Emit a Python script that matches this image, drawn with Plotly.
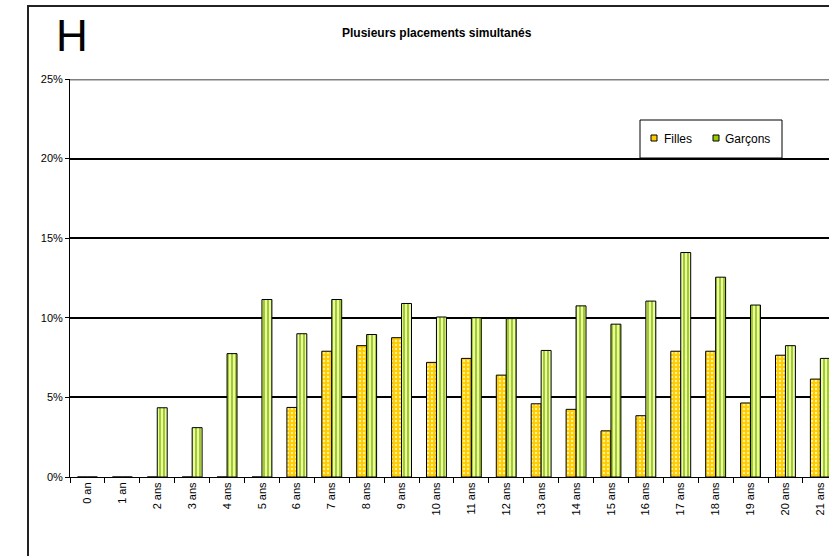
import plotly.graph_objects as go

categories = ["0 an", "1 an", "2 ans", "3 ans", "4 ans", "5 ans", "6 ans", "7 ans", "8 ans",
              "9 ans", "10 ans", "11 ans", "12 ans", "13 ans", "14 ans", "15 ans", "16 ans",
              "17 ans", "18 ans", "19 ans", "20 ans", "21 ans"]
filles = [0, 0, 0, 0, 0, 0, 4.37, 7.9, 8.25, 8.75, 7.2, 7.45, 6.4, 4.6, 4.25, 2.9, 3.85,
          7.9, 7.9, 4.65, 7.65, 6.15]
garcons = [0, 0, 4.35, 3.1, 7.75, 11.15, 9.0, 11.15, 8.95, 10.9, 10.05, 10.0, 9.95, 7.95,
           10.75, 9.6, 11.05, 14.1, 12.55, 10.8, 8.25, 7.45]
y_ticks = [0, 5, 10, 15, 20, 25]
series_names = ["Filles", "Garçons"]
series_colors = ["#FFCC00", "#99CC00"]

W, H = 829, 556
L, R, T, B = 70, 0, 79, 79
pw = W - L - R
ph = H - T - B

def px(x):
    return (x - L) / pw

def py(y):
    return (H - B - y) / ph

fig = go.Figure()
fig.add_trace(go.Bar(
    x=categories, y=filles, name=series_names[0],
    marker=dict(color=series_colors[0], line=dict(color="#000000", width=1),
                pattern=dict(shape=".", fgcolor="#FFF2A0", bgcolor=series_colors[0], size=4,
                             solidity=0.28, fgopacity=1)),
))
fig.add_trace(go.Bar(
    x=categories, y=garcons, name=series_names[1],
    marker=dict(color=series_colors[1], line=dict(color="#000000", width=1),
                pattern=dict(shape="|", fgcolor="#99CC00", bgcolor="#EAF5C0", size=4,
                             solidity=0.45, fgopacity=1)),
))

fig.update_layout(
    width=W, height=H,
    margin=dict(l=L, r=R, t=T, b=B, pad=0),
    paper_bgcolor="white", plot_bgcolor="white",
    font=dict(family="Arial, Liberation Sans, sans-serif", size=11, color="#000000"),
    barmode="group", bargap=0.43, bargroupgap=0,
    showlegend=False,
)
fig.update_xaxes(
    range=[-0.5, -0.5 + pw / 34.9], tickangle=-90, showline=True, linecolor="#000000", linewidth=1,
    ticks="outside", ticklen=5, tickcolor="#000000", tickson="boundaries", showgrid=False,
    tickfont=dict(size=11), zeroline=False,
)
fig.update_yaxes(
    range=[0, 25], tickvals=y_ticks, ticktext=[f"{v}%" for v in y_ticks],
    showline=True, linecolor="#000000", linewidth=1, ticks="outside", ticklen=4,
    tickcolor="#000000", showgrid=True, gridcolor="#000000", gridwidth=2,
    zeroline=False, tickfont=dict(size=11),
)

# top border line at 25%
fig.add_shape(type="line", xref="paper", yref="y", x0=0, x1=1.05, y0=25, y1=25,
              line=dict(color="#808080", width=3))
# outer frame
fig.add_shape(type="rect", xref="paper", yref="paper", x0=px(28), x1=1.2, y0=py(620), y1=py(6),
              line=dict(color="#222222", width=2), fillcolor="rgba(0,0,0,0)", layer="above")

# legend box (drawn manually to match the compact original legend)
fig.add_shape(type="rect", xref="paper", yref="paper", x0=px(640), x1=px(782), y0=py(158), y1=py(120),
              line=dict(color="#000000", width=1), fillcolor="white", layer="above")
legend_icon_x = [651, 713]
legend_text_x = [662, 723]
for name, col, ix, tx in zip(series_names, series_colors, legend_icon_x, legend_text_x):
    fig.add_shape(type="rect", xref="paper", yref="paper", x0=px(ix), x1=px(ix + 6),
                  y0=py(141), y1=py(135), line=dict(color="#000000", width=1),
                  fillcolor=col, layer="above")
    fig.add_annotation(text=name, xref="paper", yref="paper", x=px(tx), y=py(139),
                       xanchor="left", yanchor="middle", showarrow=False,
                       font=dict(size=12, color="#000000"))

fig.add_annotation(text="H", xref="paper", yref="paper", x=px(54), y=py(36), xanchor="left",
                   yanchor="middle", showarrow=False, font=dict(size=44, color="#000000"))
fig.add_annotation(text="<b>Plusieurs placements simultanés</b>", xref="paper", yref="paper",
                   x=px(437), y=py(33), xanchor="center", yanchor="middle", showarrow=False,
                   font=dict(size=12, color="#000000"))

fig.write_html("out.html", config={"displayModeBar": False},
               post_script="document.body.style.margin='0';document.body.style.overflow='hidden';")
